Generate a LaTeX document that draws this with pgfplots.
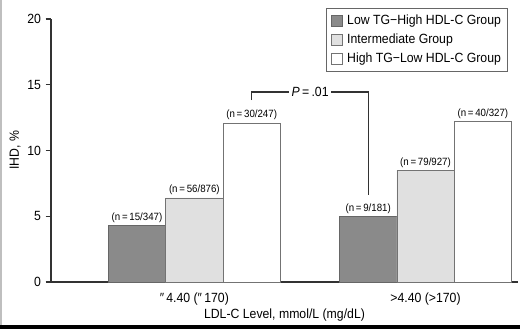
\documentclass[border=0pt]{standalone}
\usepackage{fontspec}
\setmainfont[FakeStretch=0.92]{Liberation Sans}
\usepackage{pgfplots}
\pgfplotsset{compat=1.18}
\definecolor{darkbar}{RGB}{138,138,138}
\definecolor{lightbar}{RGB}{224,224,224}
\definecolor{axcol}{RGB}{50,50,50}
\pgfplotsset{sqlegend/.style={legend image code/.code={\draw[##1] (0pt,-4pt) rectangle (8pt,4pt); \path[draw=none, fill=none] (0pt,0pt) -- (10pt,0pt);}}}
\begin{document}
\begin{tikzpicture}
\useasboundingbox (0,0) rectangle (390pt,246.75pt);
\fill[black!25] (0,0) rectangle (1.5pt,246.75pt);
\fill[black] (0,0) rectangle (390pt,3pt);
\begin{axis}[
  at={(38.25pt,35.25pt)}, anchor=south west,
  scale only axis, width=350.25pt, height=197.25pt,
  xmin=0.38, xmax=2.40, ymin=0, ymax=20,
  axis x line*=bottom, axis y line*=left,
  axis line style={axcol, line width=1pt, -},
  xtick={1,2},
  xticklabels={″\,4.40 (″\,170), >4.40 (>170)},
  xtick style={draw=none},
  ytick={0,5,10,15,20},
  tick align=outside, major tick length=4pt,
  ytick style={axcol, line width=0.8pt},
  /pgf/number format/assume math mode=true,
  font=\fontsize{10}{12}\selectfont,
  ticklabel style={font=\fontsize{10}{12}\selectfont},
  xticklabel style={yshift=-0.5pt},
  ylabel={IHD, \%},
  ylabel style={at={(axis description cs:-0.077,0.5)}, anchor=center},
  xlabel={LDL-C Level, mmol/L (mg/dL)},
  xlabel style={at={(axis description cs:0.5,-0.125)}, anchor=center},
  ybar, bar width=0.248,
  point meta=explicit symbolic,
  nodes near coords={\pgfplotspointmeta},
  nodes near coords style={font=\fontsize{7.9}{9}\selectfont, inner sep=2pt},
  legend style={at={(0.9786,1.0418)}, anchor=north east,
    draw=black!60, line width=0.6pt, fill=white,
    font=\fontsize{10}{11.5}\selectfont, row sep=1.5pt,
    inner xsep=3pt, inner ysep=3pt},
  legend cell align=left,
  clip=false,
]
\addplot[fill=darkbar, draw=black!60, line width=0.5pt, bar shift=-0.248, sqlegend]
  coordinates {(1,4.3) [(n\,=\,15/347)] (2,5.0) [(n\,=\,9/181)]};
\addlegendentry{Low TG−High HDL-C Group}
\addplot[fill=lightbar, draw=black!55, line width=0.5pt, bar shift=0, sqlegend]
  coordinates {(1,6.4) [(n\,=\,56/876)] (2,8.5) [(n\,=\,79/927)]};
\addlegendentry{Intermediate Group}
\addplot[fill=white, draw=black!55, line width=0.5pt, bar shift=0.248, sqlegend]
  coordinates {(1,12.1) [(n\,=\,30/247)] (2,12.2) [(n\,=\,40/327)]};
\addlegendentry{High TG−Low HDL-C Group}
\draw[axcol, line width=0.8pt] (axis cs:1.248,13.84) -- (axis cs:1.248,14.45) -- (axis cs:1.754,14.45) -- (axis cs:1.754,6.6);
\node[fill=white, inner sep=2pt, font=\fontsize{10}{12}\selectfont] at (axis cs:1.501,14.45) {\textit{P}\,=\,.01};
\end{axis}
\end{tikzpicture}
\end{document}
